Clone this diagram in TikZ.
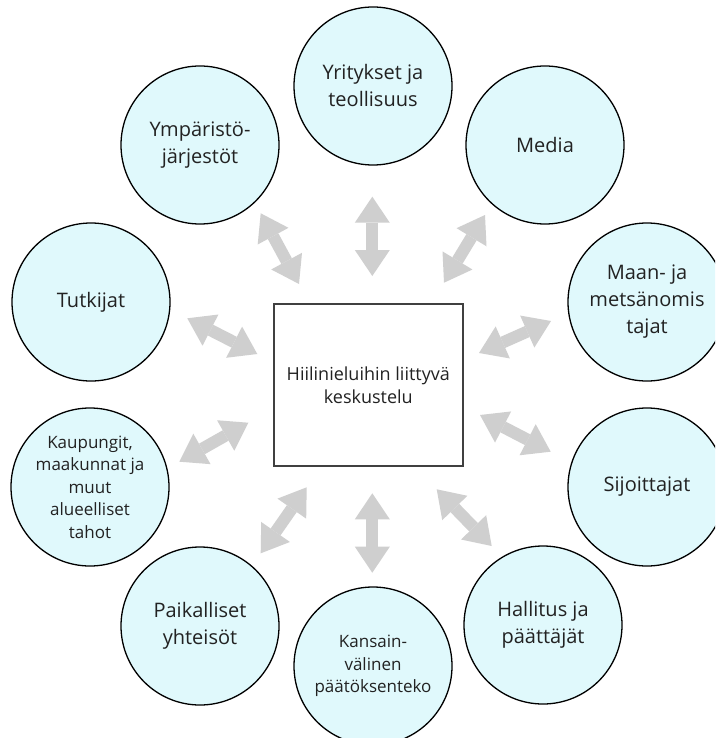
\documentclass[tikz,border=0pt]{standalone}
\usepackage{fontspec}
\setmainfont{Open Sans}
\usetikzlibrary{arrows.meta}
\definecolor{bubble}{HTML}{E0F9FC}
\definecolor{arrowgray}{HTML}{CFCFCF}
\definecolor{txt}{HTML}{222222}
\definecolor{boxline}{HTML}{404040}
\begin{document}
\begin{tikzpicture}[x=1pt,y=-1pt,
  actor/.style={circle, draw=black, line width=1.3pt, fill=bubble, minimum size=158pt, inner sep=0pt, align=center, text=txt, font=\fontsize{20}{27}\selectfont},
  smalltext/.style={font=\fontsize{17}{22.5}\selectfont},
  hub/.style={rectangle, draw=boxline, line width=2pt, fill=white, minimum width=189pt, minimum height=162pt, inner sep=0pt, align=center, text=txt, font=\fontsize{18}{23}\selectfont},
  dblarrow/.style={draw=arrowgray, line width=12pt, >={Triangle[length=26pt,width=35pt,line width=0pt]}, <->}]
\useasboundingbox (0,0) rectangle (715,738);
\clip (0,0) rectangle (715,738);
\fill[white] (0,0) rectangle (715,738);

% centre
\node[hub] (hub) at (368.3,385) {Hiilinieluihin liittyvä\\keskustelu};

% actors
\node[actor] (yrit) at (373,86)  {Yritykset ja\\teollisuus};
\node[actor] (ymp)  at (200,145) {Ympäristö-\\järjestöt};
\node[actor] (media) at (545,145) {Media};
\node[actor] (tutk) at (91,302)  {Tutkijat};
\node[actor] (maan) at (647,302) {Maan- ja\\metsänomis\\tajat};
\node[actor,smalltext] (kaup) at (90,487) {Kaupungit,\\maakunnat ja\\muut\\alueelliset\\tahot};
\node[actor] (sijo) at (647,487) {Sijoittajat};
\node[actor] (paik) at (200,626) {Paikalliset\\yhteisöt};
\node[actor,smalltext] (kans) at (373,666) {Kansain-\\välinen\\päätöksenteko};
\node[actor] (hall) at (543,625) {Hallitus ja\\päättäjät};

% arrow end points
\coordinate (a1s) at (372.3,196.7); \coordinate (a1e) at (372.3,276);
\coordinate (a2s) at (260.7,213.3); \coordinate (a2e) at (299,284);
\coordinate (a3s) at (485,215);     \coordinate (a3e) at (444,282.7);
\coordinate (a4s) at (187.3,318.3); \coordinate (a4e) at (257.3,354);
\coordinate (a5s) at (551,321);     \coordinate (a5e) at (479,353);
\coordinate (a6s) at (179.3,461.7); \coordinate (a6e) at (248.3,422.7);
\coordinate (a7s) at (550.7,451.7); \coordinate (a7e) at (480,415);
\coordinate (a8s) at (260.7,553.3); \coordinate (a8e) at (306.7,487.3);
\coordinate (a9s) at (372.3,572.7); \coordinate (a9e) at (372.3,493.3);
\coordinate (a10s) at (491.7,546);  \coordinate (a10e) at (436.7,489.3);

\foreach \i in {1,...,10}{
  \draw[dblarrow] (a\i s) -- (a\i e);
}
\end{tikzpicture}
\end{document}
